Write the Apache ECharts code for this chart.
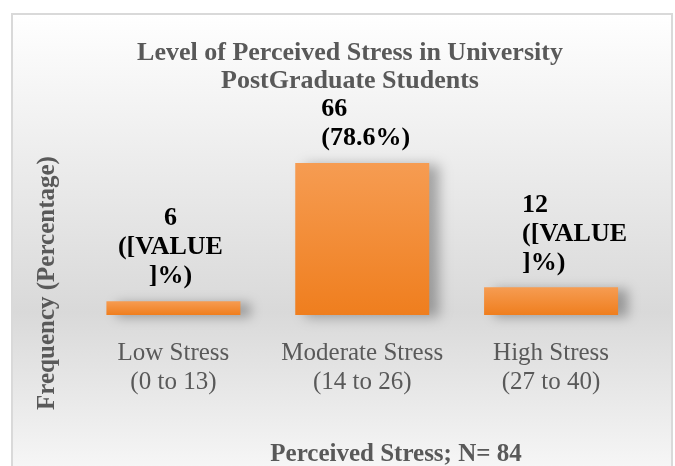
<!DOCTYPE html>
<html>
<head>
<meta charset="utf-8">
<script src="https://cdn.jsdelivr.net/npm/echarts@6/dist/echarts.min.js"></script>
<style>
  html, body { margin: 0; padding: 0; background: #fff; }
  #main { width: 675px; height: 466px; }
</style>
</head>
<body>
<div id="main"></div>
<script>
// data
var categories = ['Low Stress\n(0 to 13)', 'Moderate Stress\n(14 to 26)', 'High Stress\n(27 to 40)'];
var counts = [6, 66, 12];
var pctLabels = ['([VALUE\n]%)', '(78.6%)', '([VALUE\n]%)'];

var chartTitle = 'Level of Perceived Stress in University\nPostGraduate Students';
var xTitle = 'Perceived Stress; N= 84';
var yTitle = 'Frequency (Percentage)';

var serif = '"Liberation Serif", "Times New Roman", serif';
var grey = '#595959';

// label placement per bar (excel text boxes are not all centered)
var labelAlign = ['center', 'left', 'left'];
var labelShift = [-3, -41, -29];

var chartDom = document.getElementById('main');
var myChart = echarts.init(chartDom);

var option = {
  animation: false,
  backgroundColor: '#ffffff',
  graphic: [
    {
      type: 'rect',
      z: -10,
      shape: { x: 12, y: 14, width: 660, height: 480 },
      style: {
        fill: new echarts.graphic.LinearGradient(0, 0, 0, 1, [
          { offset: 0, color: '#ffffff' },
          { offset: 0.62, color: '#d9d9d9' },
          { offset: 1, color: '#fbfbfb' }
        ]),
        stroke: '#d9d9d9',
        lineWidth: 2
      }
    },
    {
      type: 'text',
      x: 396,
      y: 455,
      style: {
        text: xTitle,
        fill: grey,
        font: 'bold 25px ' + serif,
        align: 'center',
        verticalAlign: 'middle'
      }
    },
    {
      type: 'text',
      x: 48,
      y: 283,
      rotation: Math.PI / 2,
      style: {
        text: yTitle,
        fill: grey,
        font: 'bold 25px ' + serif,
        align: 'center',
        verticalAlign: 'middle'
      }
    }
  ],
  title: {
    text: chartTitle,
    left: 345,
    top: 34,
    textAlign: 'center',
    textStyle: {
      color: grey,
      fontFamily: serif,
      fontWeight: 'bold',
      fontSize: 26,
      lineHeight: 28
    }
  },
  grid: { left: 79, right: 29.5, top: 163, bottom: 151 },
  xAxis: {
    type: 'category',
    data: categories,
    axisLine: { show: false },
    axisTick: { show: false },
    axisLabel: {
      interval: 0,
      color: grey,
      fontFamily: serif,
      fontSize: 25,
      lineHeight: 29,
      margin: 24
    }
  },
  yAxis: {
    type: 'value',
    min: 0,
    max: 66,
    show: false,
    splitLine: { show: false }
  },
  series: [
    {
      type: 'bar',
      barWidth: 134,
      data: counts.map(function (v, i) {
        return {
          value: v,
          label: { align: labelAlign[i], offset: [labelShift[i], 0] }
        };
      }),
      itemStyle: {
        color: new echarts.graphic.LinearGradient(0, 0, 0, 1, [
          { offset: 0, color: '#f69c52' },
          { offset: 1, color: '#ef7e1e' }
        ]),
        shadowColor: 'rgba(0, 0, 0, 0.3)',
        shadowBlur: 12,
        shadowOffsetX: 10,
        shadowOffsetY: 2
      },
      label: {
        show: true,
        position: 'top',
        distance: 10,
        color: '#000',
        fontFamily: serif,
        fontWeight: 'bold',
        fontSize: 26,
        lineHeight: 29,
        formatter: function (p) {
          return counts[p.dataIndex] + '\n' + pctLabels[p.dataIndex];
        }
      }
    }
  ]
};

myChart.setOption(option);
</script>
</body>
</html>
